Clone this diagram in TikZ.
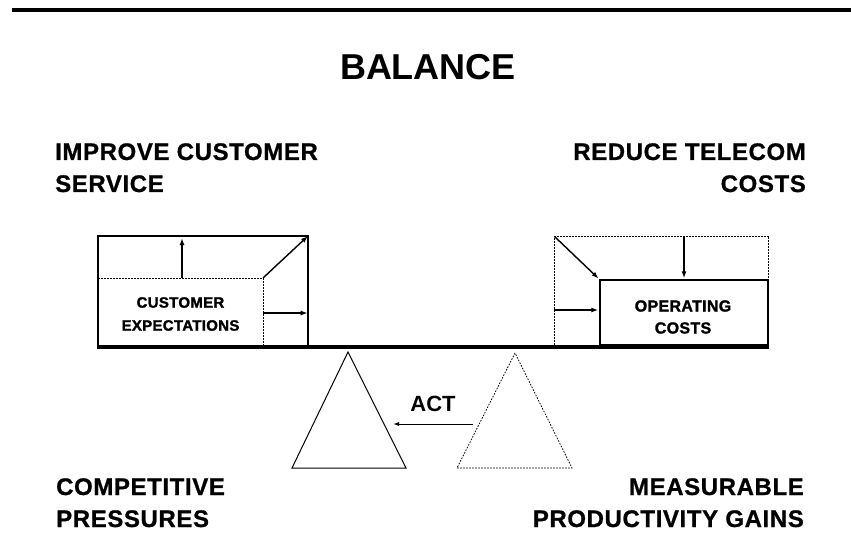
\documentclass[tikz,border=0pt]{standalone}
\usepackage{fontspec}
\setmainfont{Liberation Sans}
\newfontfamily\heavysans[LetterSpace=2.5,BoldFeatures={FakeBold=0.8}]{Liberation Sans}
\newfontfamily\boxsans[LetterSpace=2,BoldFeatures={FakeBold=1.6}]{Liberation Sans}
\usetikzlibrary{arrows.meta,positioning}

\begin{document}
\begin{tikzpicture}[x=1pt,y=-1pt,
                    heading/.style={font=\heavysans\bfseries\fontsize{24}{28}\selectfont,inner sep=0pt},
                    box text/.style={font=\boxsans\bfseries\fontsize{15}{23}\selectfont,align=center},
                    side box/.style={rectangle,inner sep=0pt,line width=1.4pt},
                    ghost/.style={dash pattern=on 1.6pt off 1.4pt,line width=0.8pt},
                    push/.style={-{Latex[length=7pt,width=5pt]},line width=1.4pt,shorten >=1pt}]
  \useasboundingbox (0,0) rectangle (851,548);
  \draw[line width=3.5pt] (12,10) -- (851,10);
  \node[font=\bfseries\fontsize{36}{40}\selectfont,inner sep=0pt,anchor=base] (title) at (428,80) {BALANCE};

  % the two sides of the scale
  \node[heading,anchor=base west] (improve) at (55,160) {IMPROVE CUSTOMER};
  \node[heading,anchor=base west] (service) at (55,192) {SERVICE};
  \node[heading,anchor=base east] (reduce) at (806,160) {REDUCE TELECOM};
  \node[heading,anchor=base east] (costs) at (806,192) {COSTS};

  % left pan
  \node[side box,draw,minimum width=210,minimum height=111] (cs) at (203,291.5) {};
  \node[side box,box text,minimum width=165,minimum height=69] (expect) at (180.5,314)
    {CUSTOMER\\EXPECTATIONS};
  \draw[ghost] (98,278) -| (263,347);
  \draw[push] (182,278) -- (182,237);
  \draw[push] (263,278) -- (cs.north east);
  \draw[push] (263,313) -- (263,313 -| cs.east);

  % right pan
  \node[side box,minimum width=213,minimum height=110] (telecom) at (661.5,292) {};
  \draw[ghost] (telecom.south west) rectangle (telecom.north east);
  \node[side box,draw,minimum width=168,minimum height=67] (opcost) at (684,313.5) {};
  \node[box text,font=\boxsans\bfseries\fontsize{16}{22}\selectfont] (oplabel) at (683,317)
    {OPERATING\\COSTS};
  \draw[push] (telecom.north west) -- (opcost.north west);
  \draw[push] (opcost.north |- telecom.north) -- (opcost.north);
  \draw[push] (telecom.west |- 310,310) -- (opcost.west |- 310,310);

  % beam and pivots
  \draw[line width=3.5pt] (97,347) -- (769,347);
  \draw[line width=5pt] (600,346) -- (769,346);
  \draw[line width=1pt] (348,352) -- (292,468) -- (406,468) -- cycle;
  \draw[ghost] (515,353) -- (457,468) -- (572,468) -- cycle;
  \node[font=\bfseries\fontsize{22}{26}\selectfont,inner sep=0pt,anchor=base] (act) at (433,411) {ACT};
  \coordinate (from) at (473,424);
  \coordinate (to) at (392,424);
  \draw[push,line width=1pt,-{Latex[length=6pt,width=4pt]}] (from) -- (to);

  % what drives each side
  \node[heading,anchor=base west] (competitive) at (56,495) {COMPETITIVE};
  \node[heading,anchor=base west] (pressures) at (56,527) {PRESSURES};
  \node[heading,anchor=base east] (measurable) at (804,495) {MEASURABLE};
  \node[heading,anchor=base east] (gains) at (804,527) {PRODUCTIVITY GAINS};
\end{tikzpicture}
\end{document}
